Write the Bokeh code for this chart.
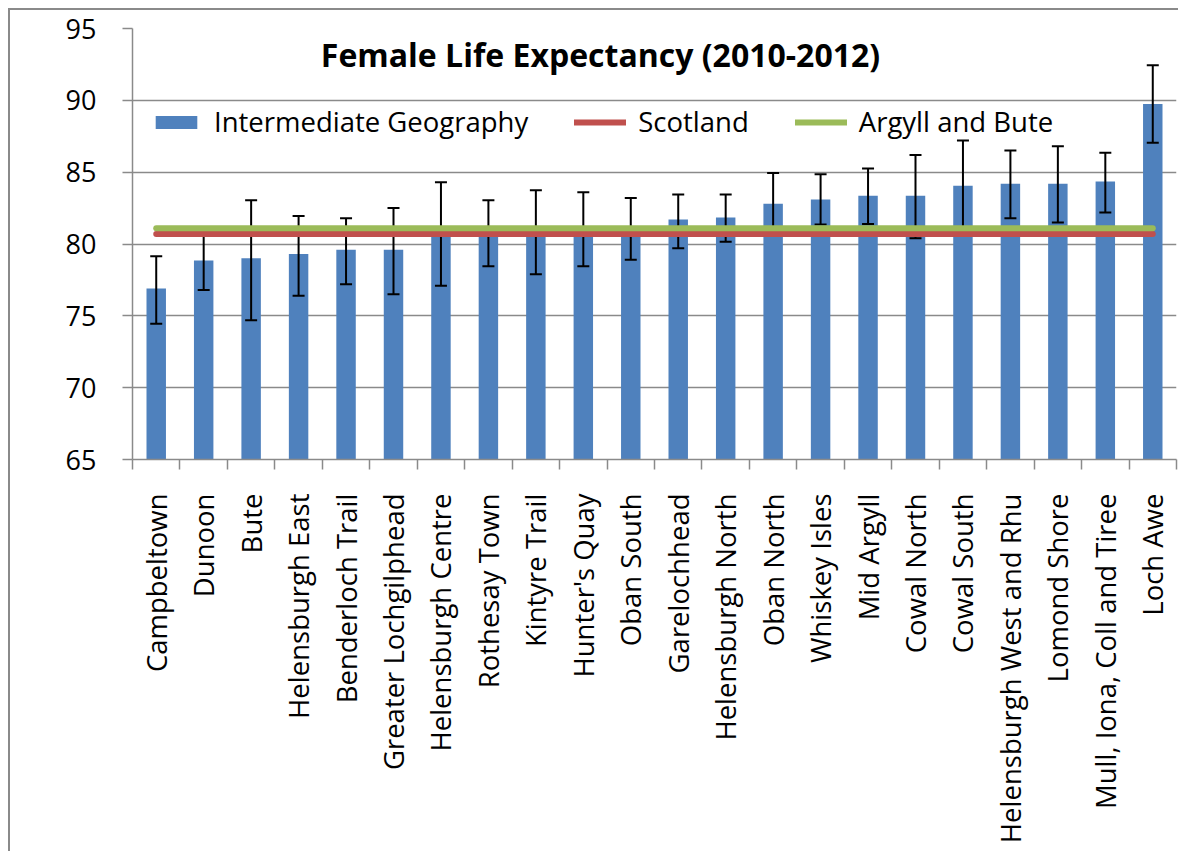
import math
import numpy as np
from bokeh.plotting import figure
from bokeh.models import Range1d, FixedTicker, Legend, LegendItem, Label
from bokeh.embed import file_html
from bokeh.resources import INLINE

categories = [
    "Campbeltown", "Dunoon", "Bute", "Helensburgh East", "Benderloch Trail",
    "Greater Lochgilphead", "Helensburgh Centre", "Rothesay Town", "Kintyre Trail",
    "Hunter's Quay", "Oban South", "Garelochhead", "Helensburgh North", "Oban North",
    "Whiskey Isles", "Mid Argyll", "Cowal North", "Cowal South",
    "Helensburgh West and Rhu", "Lomond Shore", "Mull, Iona, Coll and Tiree", "Loch Awe",
]
life_expectancy = [76.9, 78.85, 79.0, 79.3, 79.6, 79.6, 80.7, 80.75, 80.8, 81.0, 81.05,
                   81.7, 81.85, 82.8, 83.1, 83.35, 83.35, 84.05, 84.2, 84.2, 84.35, 89.75]
ci_lower = [74.45, 76.8, 74.7, 76.4, 77.2, 76.5, 77.1, 78.45, 77.9, 78.45, 78.9,
            79.7, 80.15, 80.65, 81.35, 81.4, 80.4, 80.9, 81.8, 81.5, 82.2, 87.05]
ci_upper = [79.15, 80.9, 83.05, 81.95, 81.8, 82.5, 84.3, 83.05, 83.75, 83.6, 83.2,
            83.45, 83.45, 84.95, 84.85, 85.25, 86.2, 87.2, 86.5, 86.8, 86.35, 92.45]
scotland = 80.7
argyll_and_bute = 81.1
y_ticks = [65, 70, 75, 80, 85, 90, 95]
title_text = "Female Life Expectancy (2010-2012)"
series_names = ["Intermediate Geography", "Scotland", "Argyll and Bute"]

FONT = "Open Sans"
GRAY = "#8a8a8a"

n = len(categories)
centers = np.arange(n) + 0.5
bounds = np.arange(n + 1)

p = figure(width=1170, height=843, output_backend="svg", toolbar_location=None,
           x_range=Range1d(0, n), y_range=Range1d(y_ticks[0], y_ticks[-1]),
           min_border_left=122, min_border_top=18, min_border_bottom=394,
           min_border_right=4)
p.styles = {"margin-left": "8px", "margin-top": "8px",
            "border-left": "2px solid #8a8a8a", "border-top": "2px solid #8a8a8a"}
p.outline_line_color = None
p.background_fill_color = "white"

r_bar = p.vbar(x=centers, top=life_expectancy, bottom=y_ticks[0], width=0.41,
               fill_color="#4F81BD", line_color=None)
p.segment(x0=centers, y0=ci_lower, x1=centers, y1=ci_upper,
          line_color="black", line_width=2)
p.scatter(x=np.r_[centers, centers], y=np.r_[ci_lower, ci_upper], marker="dash",
          size=12, line_color="black", line_width=2)

xs = [centers[0], centers[-1]]
r_scot = p.line(xs, [scotland] * 2, line_color="#C0504D", line_width=6, line_cap="round")
r_ab = p.line(xs, [argyll_and_bute] * 2, line_color="#9BBB59", line_width=6, line_cap="round")

# axes
p.yaxis.ticker = FixedTicker(ticks=y_ticks)
p.yaxis.major_tick_out = 10
p.yaxis.major_tick_in = 0
p.yaxis.minor_tick_out = 0
p.yaxis.minor_tick_in = 0
p.yaxis.major_label_standoff = 26
p.yaxis.major_label_text_font = FONT
p.yaxis.major_label_text_font_size = "27px"
p.yaxis.major_label_text_color = "black"
p.yaxis.axis_line_color = GRAY
p.yaxis.axis_line_width = 1.5
p.yaxis.major_tick_line_color = GRAY
p.yaxis.major_tick_line_width = 1.5

p.xaxis.ticker = FixedTicker(ticks=list(centers), minor_ticks=list(bounds))
p.xaxis.major_label_overrides = {float(c): name for c, name in zip(centers, categories)}
p.xaxis.major_tick_out = 0
p.xaxis.major_tick_in = 0
p.xaxis.minor_tick_out = 10
p.xaxis.minor_tick_in = 0
p.xaxis.minor_tick_line_color = GRAY
p.xaxis.minor_tick_line_width = 1.5
p.xaxis.major_label_orientation = math.pi / 2
p.xaxis.major_label_standoff = 24
p.xaxis.major_label_text_font = FONT
p.xaxis.major_label_text_font_size = "27.5px"
p.xaxis.major_label_text_color = "black"
p.xaxis.axis_line_color = GRAY
p.xaxis.axis_line_width = 1.5

p.xgrid.visible = False
p.ygrid.grid_line_color = GRAY
p.ygrid.grid_line_width = 1.5

legend = Legend(items=[LegendItem(label=series_names[0], renderers=[r_bar]),
                       LegendItem(label=series_names[1], renderers=[r_scot]),
                       LegendItem(label=series_names[2], renderers=[r_ab])],
                orientation="horizontal", location=(18, 319),
                glyph_width=52, glyph_height=16, label_height=16,
                label_standoff=12, spacing=46, padding=0, margin=0,
                border_line_color=None, background_fill_alpha=0,
                label_text_font=FONT, label_text_font_size="27.5px",
                label_text_color="black")
p.add_layout(legend)

title = Label(x=468, y=405, x_units="screen", y_units="screen", text=title_text,
              text_font=FONT, text_font_style="bold", text_font_size="32px",
              text_align="center", text_baseline="middle", text_color="black")
p.add_layout(title)

open("out.html", "w").write(file_html(p, INLINE))
